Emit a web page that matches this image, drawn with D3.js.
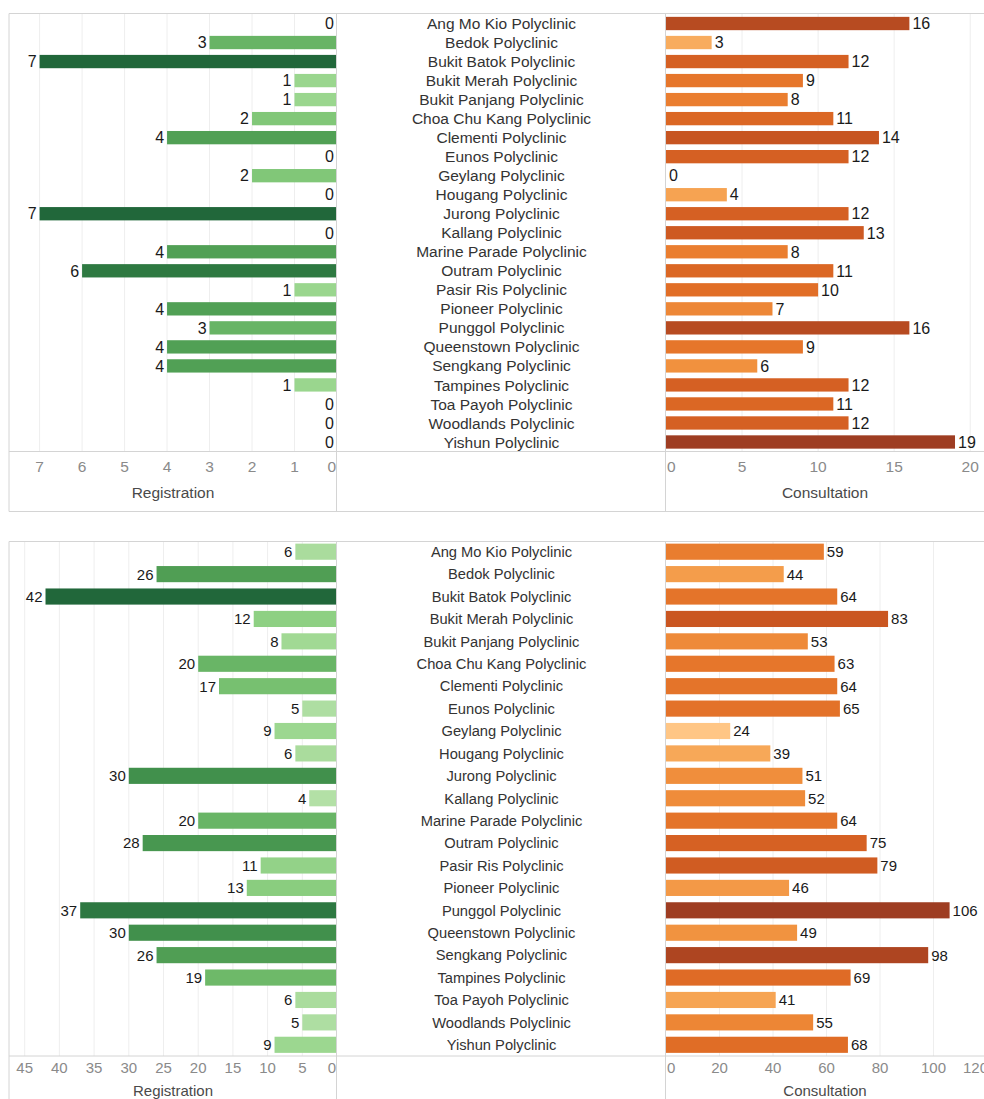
<!DOCTYPE html>
<html>
  <head>
    <meta charset="utf-8">
    <style>
      body { margin: 0; background: #fff; }
      svg { display: block; font-family: "Liberation Sans", Arial, sans-serif; }
      .frame { stroke: #d4d4d4; stroke-width: 1; fill: none; }
      .grid line { stroke: #eeeeee; }
      .tick-label { fill: #8a8a8a; }
      .axis-title { fill: #4a4a4a; }
      .cat { fill: #333; }
      .val { fill: #1a1a1a; }
    </style>
  </head>
  <body>
    <script src="https://d3js.org/d3.v7.min.js"></script>
    <script>
      const categories = ["Ang Mo Kio Polyclinic", "Bedok Polyclinic", "Bukit Batok Polyclinic",
        "Bukit Merah Polyclinic", "Bukit Panjang Polyclinic", "Choa Chu Kang Polyclinic",
        "Clementi Polyclinic", "Eunos Polyclinic", "Geylang Polyclinic", "Hougang Polyclinic",
        "Jurong Polyclinic", "Kallang Polyclinic", "Marine Parade Polyclinic", "Outram Polyclinic",
        "Pasir Ris Polyclinic", "Pioneer Polyclinic", "Punggol Polyclinic", "Queenstown Polyclinic",
        "Sengkang Polyclinic", "Tampines Polyclinic", "Toa Payoh Polyclinic", "Woodlands Polyclinic",
        "Yishun Polyclinic"]

      const registrationTop = [0, 3, 7, 1, 1, 2, 4, 0, 2, 0, 7, 0, 4, 6, 1, 4, 3, 4, 4, 1, 0, 0, 0]
      const consultationTop = [16, 3, 12, 9, 8, 11, 14, 12, 0, 4, 12, 13, 8, 11, 10, 7, 16, 9, 6, 12, 11, 12, 19]
      const registrationBottom = [6, 26, 42, 12, 8, 20, 17, 5, 9, 6, 30, 4, 20, 28, 11, 13, 37, 30, 26, 19, 6, 5, 9]
      const consultationBottom = [59, 44, 64, 83, 53, 63, 64, 65, 24, 39, 51, 52, 64, 75, 79, 46, 106, 49, 98, 69, 41, 55, 68]

      const regTicksTop = [0, 1, 2, 3, 4, 5, 6, 7]
      const consTicksTop = [0, 5, 10, 15, 20]
      const regTicksBottom = [0, 5, 10, 15, 20, 25, 30, 35, 40, 45]
      const consTicksBottom = [0, 20, 40, 60, 80, 100, 120]

      const W = 984, H = 1099
      const leftX = 9, zeroL = 337, zeroR = 666, rightX = 990

      const greens = d3.interpolateRgbBasis(["#b3e0a6", "#88cf7c", "#5aa95a", "#378746", "#21673a"])
      const oranges = d3.interpolateRgbBasis(["#ffc685", "#f59d45", "#e66f24", "#c75220", "#9e3d22"])

      const svg = d3.select("body").append("svg")
        .attr("width", W)
        .attr("height", H)

      function drawPanel(opts) {
        const g = svg.append("g")

        const y = d3.scaleBand()
          .domain(categories)
          .range([opts.rowTop, opts.axisY])
          .paddingInner(opts.pad)
          .paddingOuter(opts.pad / 2)

        const xL = d3.scaleLinear().domain([0, opts.regMax]).range([zeroL, leftX])
        const xR = d3.scaleLinear().domain([0, opts.consMax]).range([zeroR, rightX])

        const regColor = d3.scaleSequential(greens).domain(d3.extent(opts.reg))
        const consColor = d3.scaleSequential(oranges).domain(d3.extent(opts.cons))

        // grid lines
        g.append("g").attr("class", "grid")
          .selectAll("line")
          .data(opts.regTicks.filter(d => d > 0))
          .join("line")
            .attr("x1", d => xL(d)).attr("x2", d => xL(d))
            .attr("y1", opts.top).attr("y2", opts.axisY)
        g.append("g").attr("class", "grid")
          .selectAll("line")
          .data(opts.consTicks.filter(d => d > 0))
          .join("line")
            .attr("x1", d => xR(d)).attr("x2", d => xR(d))
            .attr("y1", opts.top).attr("y2", opts.axisY)

        const rows = categories.map((c, i) => ({ cat: c, reg: opts.reg[i], cons: opts.cons[i] }))

        // registration bars (left, growing leftwards)
        g.selectAll(".reg-bar")
          .data(rows.filter(d => d.reg > 0))
          .join("rect")
            .attr("class", "reg-bar")
            .attr("x", d => xL(d.reg))
            .attr("width", d => xL(0) - xL(d.reg))
            .attr("y", d => y(d.cat))
            .attr("height", y.bandwidth())
            .attr("fill", d => regColor(d.reg))

        g.selectAll(".reg-val")
          .data(rows)
          .join("text")
            .attr("class", "val")
            .attr("x", d => xL(d.reg) - 3)
            .attr("y", d => y(d.cat) + y.bandwidth() / 2)
            .attr("dy", "0.36em")
            .attr("text-anchor", "end")
            .style("font-size", opts.vfs + "px")
            .text(d => d.reg)

        // consultation bars (right)
        g.selectAll(".cons-bar")
          .data(rows.filter(d => d.cons > 0))
          .join("rect")
            .attr("class", "cons-bar")
            .attr("x", xR(0))
            .attr("width", d => xR(d.cons) - xR(0))
            .attr("y", d => y(d.cat))
            .attr("height", y.bandwidth())
            .attr("fill", d => consColor(d.cons))

        g.selectAll(".cons-val")
          .data(rows)
          .join("text")
            .attr("class", "val")
            .attr("x", d => xR(d.cons) + 3)
            .attr("y", d => y(d.cat) + y.bandwidth() / 2)
            .attr("dy", "0.36em")
            .style("font-size", opts.vfs + "px")
            .text(d => d.cons)

        // category labels
        g.selectAll(".cat")
          .data(categories)
          .join("text")
            .attr("class", "cat")
            .attr("x", (zeroL + zeroR) / 2)
            .attr("y", d => y(d) + y.bandwidth() / 2)
            .attr("dy", "0.36em")
            .attr("text-anchor", "middle")
            .style("font-size", opts.fs + "px")
            .text(d => d)

        // frame
        g.append("line").attr("class", "frame")
          .attr("x1", leftX).attr("x2", W).attr("y1", opts.top).attr("y2", opts.top)
        g.append("line").attr("class", "frame")
          .attr("x1", leftX).attr("x2", W).attr("y1", opts.axisY).attr("y2", opts.axisY)
        g.append("line").attr("class", "frame")
          .attr("x1", leftX).attr("x2", W).attr("y1", opts.bottom).attr("y2", opts.bottom)
        ;[leftX, zeroL - 0.5, zeroR - 0.5].forEach(x => {
          g.append("line").attr("class", "frame")
            .attr("x1", x).attr("x2", x).attr("y1", opts.top).attr("y2", opts.bottom)
        })

        // tick labels, kept inside their panel
        const tickY = opts.axisY + opts.tickOff
        g.selectAll(".tl-reg")
          .data(opts.regTicks)
          .join("text")
            .attr("class", "tick-label")
            .attr("x", d => d === 0 ? xL(0) - 1 : xL(d))
            .attr("y", tickY)
            .attr("dy", "0.36em")
            .attr("text-anchor", d => d === 0 ? "end" : "middle")
            .style("font-size", opts.tfs + "px")
            .text(d => d)
        g.selectAll(".tl-cons")
          .data(opts.consTicks)
          .join("text")
            .attr("class", "tick-label")
            .attr("x", d => d === 0 ? xR(0) + 1 : xR(d))
            .attr("y", tickY)
            .attr("dy", "0.36em")
            .attr("text-anchor", d => d === 0 ? "start" : "middle")
            .style("font-size", opts.tfs + "px")
            .text(d => d)
            .each(function (d) {
              const w = this.getComputedTextLength()
              if (xR(d) + w / 2 > rightX - 2) {
                d3.select(this).attr("text-anchor", "end").attr("x", rightX - 2)
              }
            })

        // axis titles
        g.append("text").attr("class", "axis-title")
          .attr("x", (leftX + zeroL) / 2)
          .attr("y", opts.axisY + opts.titleOff)
          .attr("dy", "0.36em")
          .attr("text-anchor", "middle")
          .style("font-size", opts.tfs + "px")
          .text("Registration")
        g.append("text").attr("class", "axis-title")
          .attr("x", (zeroR + W) / 2)
          .attr("y", opts.axisY + opts.titleOff)
          .attr("dy", "0.36em")
          .attr("text-anchor", "middle")
          .style("font-size", opts.tfs + "px")
          .text("Consultation")
      }

      drawPanel({
        top: 13.5, rowTop: 14, axisY: 451.5, bottom: 511.5, pad: 0.3,
        fs: 15.5, vfs: 16, tfs: 15.5, tickOff: 15, titleOff: 41,
        reg: registrationTop, cons: consultationTop,
        regMax: 7.72, consMax: 21.3,
        regTicks: regTicksTop, consTicks: consTicksTop
      })

      drawPanel({
        top: 541.5, rowTop: 540.5, axisY: 1056, bottom: 1120, pad: 0.28,
        fs: 14.7, vfs: 15, tfs: 15, tickOff: 12, titleOff: 35,
        reg: registrationBottom, cons: consultationBottom,
        regMax: 47.26, consMax: 121.1,
        regTicks: regTicksBottom, consTicks: consTicksBottom
      })
    </script>
  </body>
</html>
